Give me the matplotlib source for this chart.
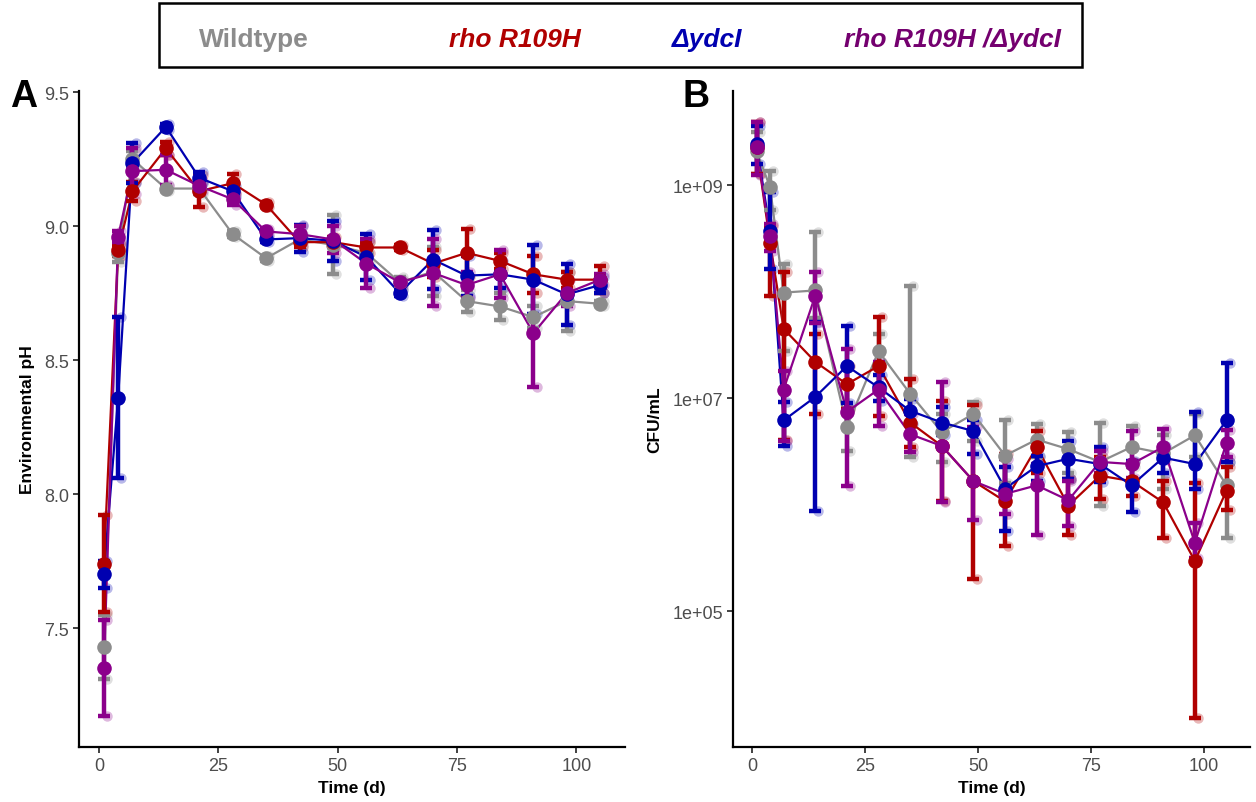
import numpy as np
import matplotlib
matplotlib.use("Agg")
import matplotlib.pyplot as plt
from matplotlib.patches import Rectangle
from matplotlib.ticker import FixedLocator, NullLocator

plt.rcParams['font.family'] = ['Liberation Sans', 'DejaVu Sans']

# ---------------- data ----------------
days = [1, 4, 7, 14, 21, 28, 35, 42, 49, 56, 63, 70, 77, 84, 91, 98, 105]
strains = ["Wildtype", "rho R109H", "ΔydcI", "rho R109H /ΔydcI"]
colors = ["#8C8C8C", "#B00000", "#0000B0", "#8B008B"]
legend_colors = ["#8C8C8C", "#B00000", "#0000B0", "#74006F"]

# Panel A: environmental pH (mean and half-width of error bar)
ph_wt = [7.43, 8.90, 9.25, 9.14, 9.14, 8.97, 8.88, 8.95, 8.93, 8.90, 8.79, 8.83, 8.72, 8.70, 8.66, 8.72, 8.71]
ph_wt_err = [0.12, 0.035, 0.03, 0.01, 0.02, 0.01, 0.01, 0.02, 0.11, 0.04, 0.02, 0.09, 0.04, 0.05, 0.04, 0.11, 0.01]
ph_rho = [7.74, 8.91, 9.13, 9.29, 9.13, 9.16, 9.08, 8.94, 8.94, 8.92, 8.92, 8.86, 8.90, 8.87, 8.82, 8.80, 8.80]
ph_rho_err = [0.18, 0.02, 0.035, 0.025, 0.06, 0.035, 0.01, 0.02, 0.02, 0.02, 0.01, 0.05, 0.09, 0.03, 0.07, 0.03, 0.05]
ph_ydcI = [7.70, 8.36, 9.235, 9.37, 9.18, 9.13, 8.95, 8.955, 8.945, 8.885, 8.75, 8.875, 8.815, 8.82, 8.80, 8.745, 8.78]
ph_ydcI_err = [0.05, 0.30, 0.075, 0.01, 0.02, 0.02, 0.01, 0.05, 0.075, 0.085, 0.01, 0.11, 0.075, 0.05, 0.13, 0.115, 0.03]
ph_dbl = [7.35, 8.96, 9.205, 9.21, 9.15, 9.10, 8.98, 8.97, 8.95, 8.86, 8.79, 8.825, 8.78, 8.82, 8.60, 8.75, 8.80]
ph_dbl_err = [0.18, 0.02, 0.085, 0.055, 0.02, 0.02, 0.01, 0.03, 0.05, 0.09, 0.01, 0.125, 0.05, 0.09, 0.20, 0.05, 0.02]

# Panel B: log10 CFU/mL (mean, lower end, upper end of error bar)
cfu_wt = [9.32, 8.98, 7.99, 8.01, 6.73, 7.44, 7.04, 6.68, 6.85, 6.46, 6.61, 6.52, 6.40, 6.54, 6.48, 6.65, 6.18]
cfu_wt_lo = [9.10, 8.77, 7.44, 7.75, 6.50, 7.10, 6.45, 6.40, 6.60, 6.20, 6.45, 6.30, 5.99, 6.35, 6.15, 6.45, 5.69]
cfu_wt_hi = [9.50, 9.13, 8.26, 8.56, 6.90, 7.60, 8.05, 6.85, 6.96, 6.79, 6.76, 6.68, 6.77, 6.74, 6.65, 6.85, 6.40]
cfu_rho = [9.36, 8.46, 7.65, 7.34, 7.13, 7.30, 6.77, 6.55, 6.22, 6.03, 6.54, 5.99, 6.27, 6.22, 6.02, 5.47, 6.13]
cfu_rho_lo = [9.10, 7.96, 6.61, 6.85, 6.90, 6.83, 6.54, 6.03, 5.30, 5.61, 6.30, 5.71, 6.05, 6.08, 5.69, 4.00, 5.95]
cfu_rho_hi = [9.59, 8.62, 8.18, 7.60, 7.30, 7.76, 7.18, 6.97, 6.93, 6.47, 6.69, 6.24, 6.45, 6.40, 6.22, 6.20, 6.35]
cfu_ydcI = [9.385, 8.57, 6.79, 7.01, 7.30, 7.10, 6.88, 6.77, 6.69, 6.15, 6.36, 6.43, 6.38, 6.18, 6.44, 6.38, 6.79]
cfu_ydcI_lo = [9.20, 8.21, 6.55, 5.94, 6.95, 6.97, 6.76, 6.65, 6.47, 5.75, 6.22, 6.24, 6.21, 5.93, 6.30, 6.15, 6.40]
cfu_ydcI_hi = [9.55, 8.93, 6.96, 7.71, 7.68, 7.22, 6.99, 6.92, 6.79, 6.35, 6.46, 6.60, 6.54, 6.41, 6.55, 6.87, 7.33]
cfu_dbl = [9.354, 8.52, 7.08, 7.96, 6.87, 7.08, 6.66, 6.55, 6.22, 6.10, 6.18, 6.04, 6.40, 6.38, 6.54, 5.64, 6.58]
cfu_dbl_lo = [9.09, 8.38, 6.60, 7.70, 6.17, 6.74, 6.49, 6.02, 5.85, 5.91, 5.71, 5.80, 6.30, 6.25, 6.42, 5.50, 6.45]
cfu_dbl_hi = [9.59, 8.63, 7.25, 8.18, 7.46, 7.335, 6.85, 7.15, 6.73, 6.43, 6.38, 6.22, 6.50, 6.69, 6.71, 5.83, 6.70]

# ---------------- figure ----------------
W, H = 1256, 803
fig = plt.figure(figsize=(W / 100, H / 100), dpi=100)

def fx(px):
    return px / W

def fy(py):
    return 1 - py / H

axA = fig.add_axes([fx(79), fy(748), fx(625) - fx(79), fy(92) - fy(748)])
axB = fig.add_axes([fx(733), fy(748), fx(1250) - fx(733), fy(92) - fy(748)])

x = np.array(days, dtype=float)

def draw(ax, means, los, his):
    # faint replicate-like points at the spread ends
    for m, lo, hi, c in zip(means, los, his, colors):
        ax.plot(x + 0.7, lo, 'o', ms=7.5, color=c, alpha=0.28, mec='none', zorder=1)
        ax.plot(x + 0.7, hi, 'o', ms=7.5, color=c, alpha=0.28, mec='none', zorder=1)
    for m, c in zip(means, colors):
        ax.plot(x, m, '-', color=c, lw=1.6, zorder=2)
    for m, lo, hi, c in zip(means, los, his, colors):
        ax.errorbar(x, m, yerr=[m - lo, hi - m], fmt='none', ecolor=c,
                    elinewidth=3.2, capsize=4.6, capthick=3.2, zorder=3)
    for m, c in zip(means, colors):
        ax.plot(x, m, 'o', ms=10.5, color=c, mec='none', zorder=4)

# panel A
phm = [np.array(a) for a in (ph_wt, ph_rho, ph_ydcI, ph_dbl)]
phe = [np.array(a) for a in (ph_wt_err, ph_rho_err, ph_ydcI_err, ph_dbl_err)]
draw(axA, phm, [m - e for m, e in zip(phm, phe)], [m + e for m, e in zip(phm, phe)])

# panel B
cm = [10 ** np.array(a) for a in (cfu_wt, cfu_rho, cfu_ydcI, cfu_dbl)]
cl = [10 ** np.array(a) for a in (cfu_wt_lo, cfu_rho_lo, cfu_ydcI_lo, cfu_dbl_lo)]
ch = [10 ** np.array(a) for a in (cfu_wt_hi, cfu_rho_hi, cfu_ydcI_hi, cfu_dbl_hi)]
axB.set_yscale('log')
draw(axB, cm, cl, ch)

axA.set_xlim(-4.2, 110.2)
axB.set_xlim(-4.2, 110.2)
axA.set_ylim(7.056, 9.504)
axB.set_ylim(10 ** 3.723, 10 ** 9.883)

axA.yaxis.set_major_locator(FixedLocator([7.5, 8.0, 8.5, 9.0, 9.5]))
axA.set_yticklabels(["7.5", "8.0", "8.5", "9.0", "9.5"])
axB.yaxis.set_major_locator(FixedLocator([1e5, 1e7, 1e9]))
axB.yaxis.set_minor_locator(NullLocator())
axB.set_yticklabels(["1e+05", "1e+07", "1e+09"])

for ax in (axA, axB):
    ax.xaxis.set_major_locator(FixedLocator([0, 25, 50, 75, 100]))
    ax.set_xticklabels(["0", "25", "50", "75", "100"])
    for s in ("top", "right"):
        ax.spines[s].set_visible(False)
    for s in ("left", "bottom"):
        ax.spines[s].set_linewidth(1.6)
        ax.spines[s].set_color("black")
    ax.tick_params(axis='both', which='major', direction='out', length=4, width=1.3,
                   color='#333333', labelsize=13, labelcolor='#4D4D4D', pad=3)
    ax.set_facecolor('white')
    ax.set_xlabel("Time (d)", fontsize=12.5, fontweight='bold')
    ax.xaxis.set_label_coords(0.5, -0.050)

axA.set_ylabel("Environmental pH", fontsize=12.5, fontweight='bold')
axA.yaxis.set_label_coords((35 - 79) / 546, 0.5)
axB.set_ylabel("CFU/mL", fontsize=12.5, fontweight='bold')
axB.yaxis.set_label_coords((662 - 733) / 517, 0.5)

# panel letters
fig.text(fx(10), fy(107), "A", fontsize=27, fontweight='bold', va='baseline', ha='left')
fig.text(fx(682), fy(107), "B", fontsize=27, fontweight='bold', va='baseline', ha='left')

# legend box
fig.patches.append(Rectangle((fx(159), fy(68)), fx(1082) - fx(159), fy(4) - fy(68),
                             transform=fig.transFigure, fill=False, edgecolor='black',
                             linewidth=1.8))
leg_x = [199, 449, 672, 844]
for lx, label, c, i in zip(leg_x, strains, legend_colors, range(4)):
    fig.text(fx(lx), fy(40), label, fontsize=19, fontweight='bold',
             fontstyle='normal' if i == 0 else 'italic', color=c,
             ha='left', va='center')

fig.savefig("out.png", dpi=100, facecolor='white')
